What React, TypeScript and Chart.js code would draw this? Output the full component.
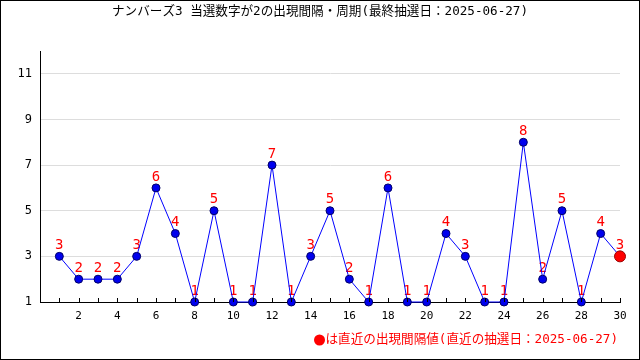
import React, { useEffect, useRef } from "react";
import { Chart, registerables } from "chart.js";

Chart.register(...registerables);

const TITLE = "ナンバーズ3 当選数字が2の出現間隔・周期(最終抽選日：2025-06-27)";
const FOOTER_TEXT = "は直近の出現間隔値(直近の抽選日：2025-06-27)";
const positions = [1,2,3,4,5,6,7,8,9,10,11,12,13,14,15,16,17,18,19,20,21,22,23,24,25,26,27,28,29,30];
const intervals = [3,2,2,2,3,6,4,1,5,1,1,7,1,3,5,2,1,6,1,1,4,3,1,1,8,2,5,1,4,3];
const yTicks = [1,3,5,7,9,11];

const FONT = "'DejaVu Sans Mono', 'Noto Sans CJK JP', monospace";

export default function App() {
  const ref = useRef<HTMLCanvasElement | null>(null);
  useEffect(() => {
    const canvas = ref.current!;
    const last = intervals.length - 1;
    const overlay = {
      id: "overlay",
      beforeDatasetsDraw(chart: any) {
        const ctx = chart.ctx;
        const meta = chart.getDatasetMeta(0);
        ctx.save();
        ctx.fillStyle = "#ff0000";
        ctx.font = `14px ${FONT}`;
        ctx.textAlign = "center";
        ctx.textBaseline = "bottom";
        meta.data.forEach((pt: any, i: number) => {
          ctx.fillText(String(intervals[i]), pt.x, pt.y - 4);
        });
        ctx.restore();
      },
      afterDraw(chart: any) {
        const ctx = chart.ctx;
        const xs = chart.scales.x;
        const area = chart.chartArea;
        ctx.save();
        ctx.strokeStyle = "#000";
        ctx.lineWidth = 1;
        for (let v = 1; v <= 30; v++) {
          const px = Math.round(xs.getPixelForValue(v)) + 0.5;
          ctx.beginPath();
          ctx.moveTo(px, area.bottom);
          ctx.lineTo(px, area.bottom - 4);
          ctx.stroke();
        }
        ctx.strokeRect(0.5, 0.5, chart.width - 1, chart.height - 1);
        ctx.fillStyle = "#000";
        ctx.font = `12.6px ${FONT}`;
        ctx.textAlign = "center";
        ctx.textBaseline = "middle";
        ctx.fillText(TITLE, chart.width / 2, 12);
        ctx.font = `12.6px ${FONT}`;
        ctx.textAlign = "right";
        ctx.fillStyle = "#ff0000";
        const tw = ctx.measureText(FOOTER_TEXT).width;
        ctx.fillText(FOOTER_TEXT, 618, 340);
        ctx.beginPath();
        ctx.arc(618 - tw - 6, 340, 5.5, 0, Math.PI * 2);
        ctx.fill();
        ctx.restore();
      },
    };
    const chart = new Chart(canvas, {
      type: "line",
      data: {
        labels: positions,
        datasets: [
          {
            data: positions.map((p, i) => ({ x: p, y: intervals[i] })),
            borderColor: "#0000ff",
            borderWidth: 1,
            pointBackgroundColor: intervals.map((_, i) => (i === last ? "#ff0000" : "#0000ee")),
            pointBorderColor: intervals.map((_, i) => (i === last ? "#990000" : "#000066")),
            pointBorderWidth: 1,
            pointRadius: intervals.map((_, i) => (i === last ? 5.5 : 4)),
            tension: 0,
            fill: false,
            clip: false,
          },
        ],
      },
      options: {
        animation: false,
        responsive: false,
        devicePixelRatio: 1,
        layout: { padding: { left: 0, right: 20, top: 51, bottom: 0 } },
        plugins: { legend: { display: false }, title: { display: false }, tooltip: { enabled: false } },
        scales: {
          x: {
            type: "linear",
            min: 0,
            max: 30,
            afterFit(scale: any) { scale.height = 58; },
            afterBuildTicks(scale: any) {
              scale.ticks = positions.filter((v) => v % 2 === 0).map((v) => ({ value: v }));
            },
            ticks: {
              autoSkip: false,
              maxRotation: 0,
              color: "#000",
              font: { family: FONT, size: 11 },
              padding: 8,
            },
            grid: { display: true, drawOnChartArea: false, drawTicks: false },
            border: { color: "#000", width: 1 },
          },
          y: {
            type: "linear",
            min: 1,
            max: 12,
            afterFit(scale: any) { scale.width = 40; },
            afterBuildTicks(scale: any) {
              scale.ticks = yTicks.map((v) => ({ value: v }));
            },
            ticks: {
              color: "#000",
              font: { family: FONT, size: 12 },
              padding: 8,
            },
            grid: {
              color: (c: any) => (c.tick && c.tick.value === 1 ? "rgba(0,0,0,0)" : "#dddddd"),
              drawTicks: false,
            },
            border: { color: "#000", width: 1 },
          },
        },
      },
      plugins: [overlay],
    });
    return () => chart.destroy();
  }, []);
  return (
    <div style={{ position: "fixed", left: 0, top: 0, width: 640, height: 360, background: "#fff" }}>
      <canvas ref={ref} width={640} height={360} style={{ display: "block" }} />
    </div>
  );
}
